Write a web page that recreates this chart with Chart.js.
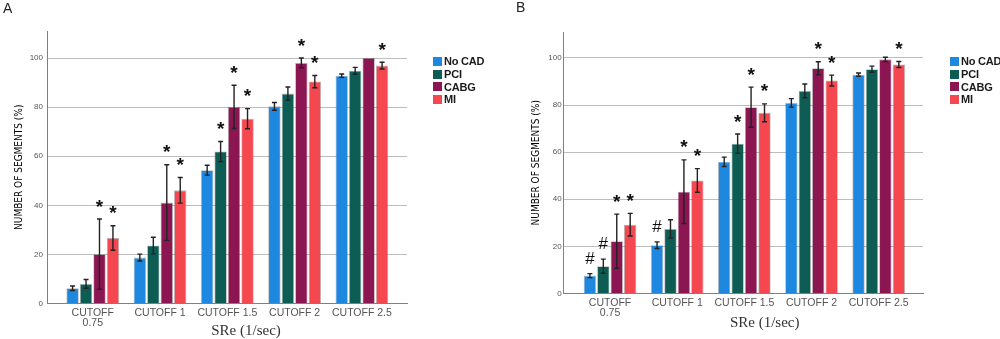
<!DOCTYPE html>
<html>
<head>
<meta charset="utf-8">
<title>SRe cutoffs by group</title>
<script src="https://cdn.jsdelivr.net/npm/chart.js@4.4.1/dist/chart.umd.min.js"></script>
<style>
  body { margin: 0; background: #fff; }
  #wrap { position: relative; width: 1000px; height: 339px; overflow: hidden; }
  .panel { position: absolute; top: 0; width: 500px; height: 339px; }
  .panel canvas { display: block; }
  .tag { position: absolute; font: 14px 'Liberation Sans', Arial, sans-serif; color: #222; }
  .legend { position: absolute; font: bold 11px 'Liberation Sans', Arial, sans-serif; letter-spacing: -0.2px; color: #1a1a1a; }
  .legend div { display: flex; align-items: center; height: 12.7px; white-space: nowrap; }
  .legend .box { width: 9px; height: 9px; margin-right: 2px; }
</style>
</head>
<body>
<div id="wrap">
  <div class="panel" style="left:0">
    <canvas id="chartA" width="500" height="339"></canvas>
    <div class="tag" style="left:3px; top:0px">A</div>
    <div class="legend" id="legendA" style="left:433px; top:55px"></div>
  </div>
  <div class="panel" style="left:500px">
    <canvas id="chartB" width="500" height="339"></canvas>
    <div class="tag" style="left:16px; top:-1px">B</div>
    <div class="legend" id="legendB" style="left:450px; top:55px"></div>
  </div>
</div>
<script>
const categories = [['CUTOFF', '0.75'], 'CUTOFF 1', 'CUTOFF 1.5', 'CUTOFF 2', 'CUTOFF 2.5'];
const groups = ['No CAD', 'PCI', 'CABG', 'MI'];
const colors = ['#1e88e0', '#0e5d55', '#8c1652', '#f5474f'];
const yTicks = [0, 20, 40, 60, 80, 100];

// panel A
const aNoCad = [6.2, 18.7, 54.3, 80.3, 92.8];
const aPci = [8.0, 23.6, 61.9, 85.5, 94.8];
const aCabg = [20.1, 41.1, 80.1, 98.0, 100];
const aMi = [26.7, 46.1, 75.3, 90.4, 96.9];
const aNoCadErr = [0.9, 1.4, 2.0, 1.6, 0.7];
const aPciErr = [1.8, 3.4, 4.1, 2.7, 1.4];
const aCabgErr = [14.3, 15.4, 8.8, 2.0, 0];
const aMiErr = [5.0, 5.2, 4.1, 2.5, 1.4];
const aNoCadSig = ['', '', '', '', ''];
const aPciSig = ['', '', '*', '', ''];
const aCabgSig = ['*', '*', '*', '*', ''];
const aMiSig = ['*', '*', '*', '*', '*'];

// panel B
const bNoCad = [7.6, 20.5, 55.9, 80.9, 92.9];
const bPci = [11.6, 27.4, 63.6, 86.0, 95.2];
const bCabg = [22.2, 43.2, 79.1, 95.6, 99.4];
const bMi = [29.2, 48.0, 76.7, 90.4, 97.2];
const bNoCadErr = [0.85, 1.4, 2.0, 1.8, 0.7];
const bPciErr = [3.0, 3.9, 4.1, 2.9, 1.3];
const bCabgErr = [11.5, 13.5, 8.5, 2.8, 0.9];
const bMiErr = [4.8, 5.0, 3.8, 2.3, 1.3];
const bNoCadSig = ['#', '#', '', '', ''];
const bPciSig = ['#', '', '*', '', ''];
const bCabgSig = ['*', '*', '*', '*', ''];
const bMiSig = ['*', '*', '*', '*', '*'];

Chart.defaults.font.family = "'Liberation Sans', Arial, sans-serif";
Chart.defaults.color = '#555';

// error bars + significance marks on top of each bar
const errorBars = {
    id: 'errorBars',
    afterDatasetsDraw(chart) {
        const ctx = chart.ctx;
        const yScale = chart.scales.y;
        ctx.save();
        chart.data.datasets.forEach((ds, i) => {
            chart.getDatasetMeta(i).data.forEach((bar, j) => {
                const v = ds.data[j].y;
                const e = ds.errors[j];
                const top = yScale.getPixelForValue(v + e);
                if (e > 0) {
                    const bot = yScale.getPixelForValue(v - e);
                    ctx.strokeStyle = '#222';
                    ctx.lineWidth = 1.4;
                    ctx.beginPath();
                    ctx.moveTo(bar.x, top); ctx.lineTo(bar.x, bot);
                    ctx.moveTo(bar.x - 2.5, top); ctx.lineTo(bar.x + 2.5, top);
                    ctx.moveTo(bar.x - 2.5, bot); ctx.lineTo(bar.x + 2.5, bot);
                    ctx.stroke();
                }
                const mark = ds.marks[j];
                if (mark) {
                    ctx.font = mark === '*' ? "bold 19px 'Liberation Sans', Arial" : "17px 'Liberation Sans', Arial";
                    ctx.fillStyle = '#111';
                    ctx.textAlign = 'center';
                    ctx.textBaseline = 'alphabetic';
                    const m = ctx.measureText(mark);
                    const mid = top - 16;
                    ctx.fillText(mark, bar.x, mid + (m.actualBoundingBoxAscent - m.actualBoundingBoxDescent) / 2);
                }
            });
        });
        ctx.restore();
    }
};

function makeChart(id, series, errors, marks, box) {
    return new Chart(document.getElementById(id), {
        type: 'bar',
        data: {
            datasets: groups.map((g, i) => ({
                label: g,
                data: series[i].map((v, k) => ({ x: k, y: v })),
                errors: errors[i],
                marks: marks[i],
                backgroundColor: colors[i],
                borderColor: 'rgba(0,0,0,0.3)',
                borderWidth: 0.8,
                categoryPercentage: 0.8,
                barPercentage: 0.92
            }))
        },
        options: {
            responsive: false,
            animation: false,
            layout: { padding: { left: box.left, right: box.right, top: box.top, bottom: box.bottom } },
            plugins: {
                legend: { display: false },
                tooltip: { enabled: false },
                title: {
                    display: true,
                    position: 'bottom',
                    text: 'SRe (1/sec)',
                    color: '#333',
                    font: { family: "'Liberation Serif', 'Times New Roman', Tinos, serif", size: 15, weight: 'normal', lineHeight: 1 },
                    padding: { top: box.titleGap, bottom: 0 }
                }
            },
            scales: {
                x: {
                    type: 'linear',
                    min: box.xMin,
                    max: box.xMax,
                    offset: false,
                    grid: { display: false, drawTicks: false },
                    border: { color: '#808080' },
                    afterBuildTicks: s => { s.ticks = categories.map((c, k) => ({ value: k })); },
                    afterFit: s => { s.height = 26; },
                    ticks: {
                        autoSkip: false,
                        maxRotation: 0,
                        padding: 4,
                        color: '#555',
                        font: { size: 10.5, lineHeight: 1 },
                        callback: v => categories[v]
                    }
                },
                y: {
                    min: 0,
                    max: 111,
                    afterBuildTicks: s => { s.ticks = yTicks.map(v => ({ value: v })); },
                    afterFit: s => { s.width = 33.5; },
                    grid: {
                        drawTicks: false,
                        color: c => (c.tick && c.tick.value === 0) ? 'rgba(0,0,0,0)' : '#bdbdbd'
                    },
                    border: { color: '#808080' },
                    ticks: { padding: box.tickPad, color: '#555', font: { size: 8 } },
                    title: {
                        display: true,
                        text: 'NUMBER OF SEGMENTS (%)',
                        color: '#000',
                        padding: 0,
                        font: { family: "'DejaVu Sans Condensed', 'Liberation Sans', sans-serif", size: 10, lineHeight: 1.2 }
                    }
                },
                yLegend: {
                    position: 'right',
                    grid: { display: false },
                    border: { display: false },
                    ticks: { display: false },
                    afterFit: s => { s.width = box.legendSpace; }
                }
            }
        },
        plugins: [errorBars]
    });
}

function fillLegend(id) {
    const el = document.getElementById(id);
    groups.forEach((g, i) => {
        const row = document.createElement('div');
        const sw = document.createElement('span');
        sw.className = 'box';
        sw.style.background = colors[i];
        row.appendChild(sw);
        row.appendChild(document.createTextNode(g));
        el.appendChild(row);
    });
}

makeChart('chartA',
    [aNoCad, aPci, aCabg, aMi],
    [aNoCadErr, aPciErr, aCabgErr, aMiErr],
    [aNoCadSig, aPciSig, aCabgSig, aMiSig],
    { left: 13.5, right: 21.5, top: 31, bottom: 0, titleGap: -5.5, xMin: -0.68, xMax: 4.67, tickPad: 4, legendSpace: 71.5 });

makeChart('chartB',
    [bNoCad, bPci, bCabg, bMi],
    [bNoCadErr, bPciErr, bCabgErr, bMiErr],
    [bNoCadSig, bPciSig, bCabgSig, bMiSig],
    { left: 30.2, right: 0.8, top: 32, bottom: 8, titleGap: -3.5, xMin: -0.69, xMax: 4.66, tickPad: 2, legendSpace: 76.2 });

fillLegend('legendA');
fillLegend('legendB');
</script>
</body>
</html>
